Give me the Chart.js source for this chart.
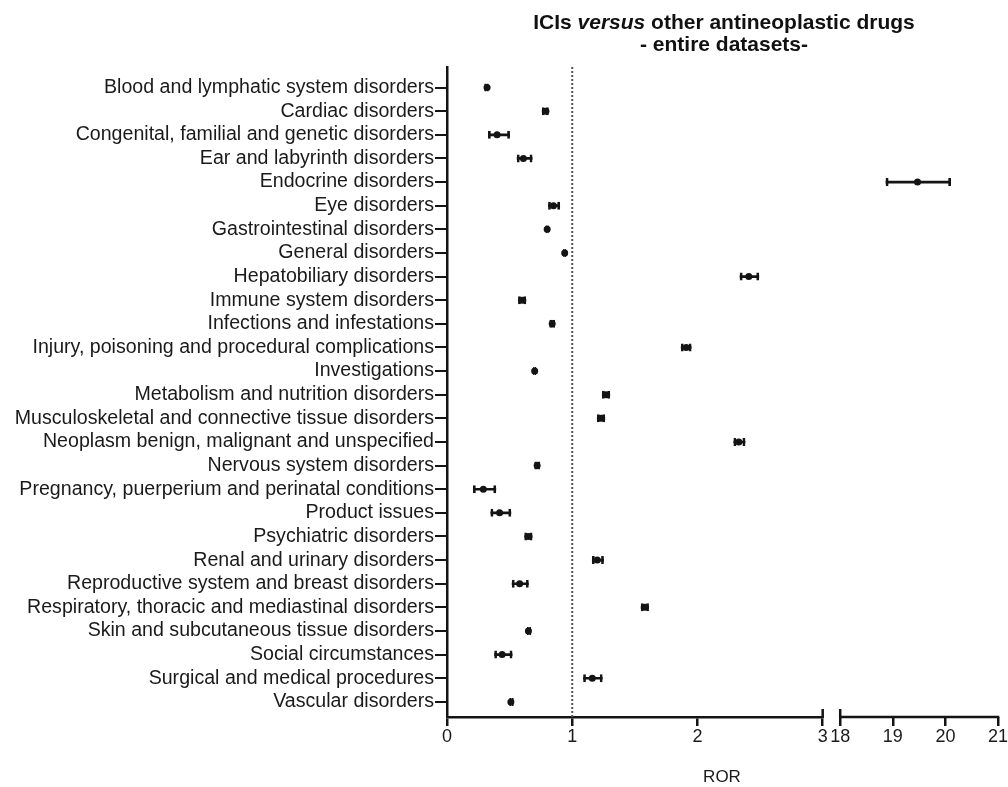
<!DOCTYPE html>
<html>
<head>
<meta charset="utf-8">
<script src="https://cdn.jsdelivr.net/npm/chart.js@4.4.1/dist/chart.umd.min.js"></script>
<style>
  html, body { margin: 0; padding: 0; background: #fff; }
  #wrap { position: relative; width: 1008px; height: 787px; font-family: "Liberation Sans", Arial, sans-serif; color: #111; }
  #title { position: absolute; left: 524px; width: 400px; top: 11px; text-align: center; font-weight: bold; font-size: 21px; line-height: 22px; }
  #xlabel { position: absolute; left: 672px; width: 100px; top: 768px; text-align: center; font-size: 17px; line-height: 17px; color: #1a1a1a; }
  canvas { position: absolute; left: 0; top: 0; }
</style>
</head>
<body>
<div id="wrap">
  <canvas id="forest" width="1008" height="787"></canvas>
  <div id="title">ICIs <i>versus</i> other antineoplastic drugs<br>- entire datasets-</div>
  <div id="xlabel">ROR</div>
</div>
<script>
// SOC categories, top to bottom
const categories = [
  "Blood and lymphatic system disorders",
  "Cardiac disorders",
  "Congenital, familial and genetic disorders",
  "Ear and labyrinth disorders",
  "Endocrine disorders",
  "Eye disorders",
  "Gastrointestinal disorders",
  "General disorders",
  "Hepatobiliary disorders",
  "Immune system disorders",
  "Infections and infestations",
  "Injury, poisoning and procedural complications",
  "Investigations",
  "Metabolism and nutrition disorders",
  "Musculoskeletal and connective tissue disorders",
  "Neoplasm benign, malignant and unspecified",
  "Nervous system disorders",
  "Pregnancy, puerperium and perinatal conditions",
  "Product issues",
  "Psychiatric disorders",
  "Renal and urinary disorders",
  "Reproductive system and breast disorders",
  "Respiratory, thoracic and mediastinal disorders",
  "Skin and subcutaneous tissue disorders",
  "Social circumstances",
  "Surgical and medical procedures",
  "Vascular disorders"
];

// ROR and 95% CI
const ror    = [0.32, 0.79, 0.40, 0.61, 19.47, 0.85, 0.80, 0.94, 2.41, 0.60, 0.84, 1.91, 0.70, 1.27, 1.23, 2.33, 0.72, 0.29, 0.42, 0.65, 1.20, 0.58, 1.58, 0.65, 0.44, 1.16, 0.51];
const ciLow  = [0.30, 0.76, 0.33, 0.56, 18.87, 0.81, 0.79, 0.93, 2.34, 0.57, 0.82, 1.87, 0.69, 1.24, 1.20, 2.29, 0.70, 0.21, 0.35, 0.62, 1.16, 0.52, 1.55, 0.64, 0.38, 1.09, 0.50];
const ciHigh = [0.33, 0.81, 0.50, 0.68, 20.10, 0.90, 0.81, 0.95, 2.49, 0.63, 0.86, 1.95, 0.71, 1.30, 1.26, 2.38, 0.74, 0.39, 0.51, 0.68, 1.25, 0.65, 1.61, 0.67, 0.52, 1.24, 0.53];

// broken x axis: two segments
const leftTicks = [0, 1, 2, 3];
const rightTicks = [18, 19, 20, 21];
const refLine = 1;

const INK = "#141414";
const FONT = "'Liberation Sans', Arial, sans-serif";

const leftRows = [];
const rightRows = [];
categories.forEach((c, i) => {
  const row = { i, v: ror[i], lo: ciLow[i], hi: ciHigh[i] };
  if (ror[i] > leftTicks[leftTicks.length - 1]) rightRows.push(row);
  else leftRows.push(row);
});

function pointSet(rows, axis) {
  return {
    type: "scatter", xAxisID: axis, yAxisID: "y",
    data: rows.map(r => ({ x: r.v, y: r.i })),
    pointRadius: 3.5, pointBackgroundColor: INK, pointBorderWidth: 0
  };
}
function whiskerSet(rows, axis) {
  return {
    type: "bar", xAxisID: axis, yAxisID: "y", grouped: false,
    data: rows.map(r => ({ x: [r.lo, r.hi], y: r.i })),
    backgroundColor: INK, borderWidth: 0, barThickness: 2, maxBarThickness: 2
  };
}
function capSet(rows, axis) {
  return {
    type: "bar", xAxisID: axis, yAxisID: "y", grouped: false,
    data: rows.map(r => ({ x: [r.lo, r.hi], y: r.i })),
    backgroundColor: "rgba(0,0,0,0)", borderColor: INK,
    borderWidth: { left: 2, right: 2, top: 0, bottom: 0 }, borderSkipped: false,
    barThickness: 8, maxBarThickness: 8
  };
}

// dotted line at ROR = 1 and the axis break marks
const axisBreak = {
  id: "axisBreak",
  beforeDatasetsDraw(chart) {
    const { ctx, chartArea: { top, bottom }, scales: { x } } = chart;
    const px = x.getPixelForValue(refLine);
    ctx.save();
    ctx.strokeStyle = "#555";
    ctx.lineWidth = 2;
    ctx.setLineDash([2, 2]);
    ctx.beginPath();
    ctx.moveTo(px, top);
    ctx.lineTo(px, bottom);
    ctx.stroke();
    ctx.restore();
  },
  afterDraw(chart) {
    const { ctx, chartArea: { bottom }, scales: { x, x2 } } = chart;
    const a = x.getPixelForValue(leftTicks[leftTicks.length - 1]);
    const b = x2.getPixelForValue(rightTicks[0]);
    const c = x2.getPixelForValue(rightTicks[rightTicks.length - 1]);
    ctx.save();
    ctx.strokeStyle = INK;
    ctx.lineWidth = 2.5;
    ctx.beginPath();
    ctx.moveTo(b - 1.25, bottom);
    ctx.lineTo(c + 1.25, bottom);
    ctx.moveTo(a, bottom - 8);
    ctx.lineTo(a, bottom + 1);
    ctx.moveTo(b, bottom - 8);
    ctx.lineTo(b, bottom + 1);
    ctx.stroke();
    ctx.restore();
  }
};

function xScale(ticks, min, max, weight, border) {
  return {
    type: "linear", axis: "x", position: "bottom", stack: "xs", stackWeight: weight,
    min, max, offset: false,
    afterBuildTicks: s => { s.ticks = ticks.map(v => ({ value: v })); },
    afterFit: s => { s.height = 40; },
    border: { display: border, width: 2.5, color: INK },
    grid: { drawOnChartArea: false, drawTicks: true, tickLength: 9, lineWidth: 2.5, color: INK },
    ticks: { autoSkip: false, maxRotation: 0, padding: 0, color: "#1a1a1a", font: { family: FONT, size: 18 } }
  };
}

new Chart(document.getElementById("forest"), {
  type: "bar",
  data: {
    datasets: [
      pointSet(leftRows, "x"), pointSet(rightRows, "x2"),
      whiskerSet(leftRows, "x"), whiskerSet(rightRows, "x2"),
      capSet(leftRows, "x"), capSet(rightRows, "x2")
    ]
  },
  options: {
    indexAxis: "y",
    responsive: false,
    animation: false,
    layout: { padding: { top: 67, right: 10, bottom: 30, left: 0 } },
    plugins: { legend: { display: false }, tooltip: { enabled: false } },
    scales: {
      x: xScale(leftTicks, 0, 3, 375.7, true),
      x2: xScale(rightTicks, 17.667, 21, 175.3, false),
      y: {
        type: "linear", position: "left", reverse: true,
        min: -0.87, max: 26.64, offset: false,
        afterBuildTicks: s => { s.ticks = categories.map((c, i) => ({ value: i })); },
        afterFit: s => { s.width = 447; },
        border: { display: true, width: 2.5, color: INK },
        grid: { drawOnChartArea: false, offset: false, drawTicks: true, tickLength: 12, lineWidth: 2, color: INK },
        ticks: {
          autoSkip: false, padding: 1, color: "#1a1a1a",
          font: { family: FONT, size: 19.6 },
          callback: v => categories[v]
        }
      }
    }
  },
  plugins: [axisBreak]
});
</script>
</body>
</html>
